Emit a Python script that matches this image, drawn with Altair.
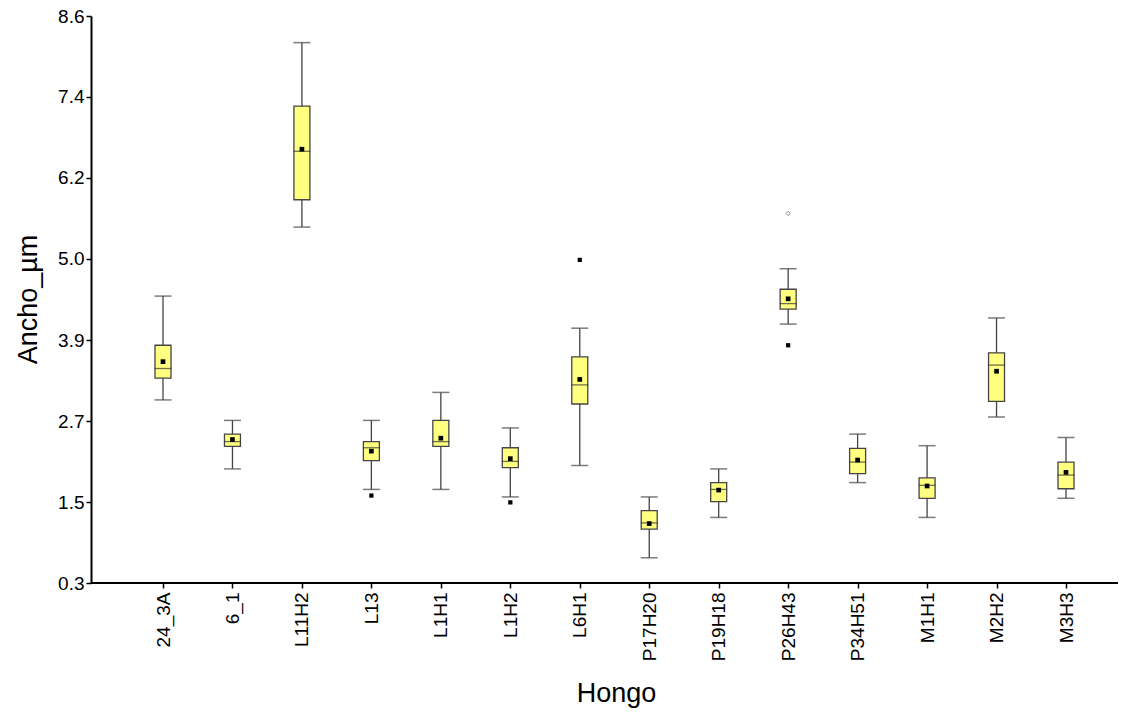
import altair as alt
import pandas as pd

categories = ["24_3A", "6_1", "L11H2", "L13", "L1H1", "L1H2", "L6H1",
              "P17H20", "P19H18", "P26H43", "P34H51", "M1H1", "M2H2", "M3H3"]
whisk_lo = [2.98, 1.97, 5.51, 1.67, 1.67, 1.56, 2.02, 0.67, 1.26, 4.09, 1.77, 1.26, 2.73, 1.54]
q1       = [3.30, 2.30, 5.91, 2.09, 2.30, 1.99, 2.92, 1.09, 1.49, 4.31, 1.90, 1.54, 2.96, 1.68]
median   = [3.44, 2.37, 6.62, 2.28, 2.37, 2.08, 3.20, 1.18, 1.67, 4.39, 2.07, 1.73, 3.49, 1.88]
q3       = [3.78, 2.48, 7.28, 2.37, 2.68, 2.28, 3.61, 1.36, 1.77, 4.60, 2.27, 1.84, 3.67, 2.07]
whisk_hi = [4.50, 2.68, 8.21, 2.68, 3.09, 2.57, 4.03, 1.56, 1.97, 4.90, 2.48, 2.31, 4.18, 2.43]
mean     = [3.54, 2.40, 6.65, 2.23, 2.42, 2.12, 3.28, 1.17, 1.66, 4.46, 2.10, 1.72, 3.40, 1.92]

out_cat = ["L13", "L1H2", "L6H1", "P26H43"]
out_val = [1.58, 1.48, 5.03, 3.78]
far_cat = ["P26H43"]
far_val = [5.71]

y_ticks = [0.3, 1.4857, 2.6714, 3.8571, 5.0429, 6.2286, 7.4143, 8.6]

df = pd.DataFrame({"Hongo": categories, "lo": whisk_lo, "q1": q1, "med": median,
                   "q3": q3, "hi": whisk_hi, "mean": mean})
dfo = pd.DataFrame({"Hongo": out_cat, "v": out_val})
dff = pd.DataFrame({"Hongo": far_cat, "v": far_val})

FONT = "Liberation Sans"
W, H = 1027, 567

xs = alt.X("Hongo:N", sort=categories,
           scale=alt.Scale(type="point", range=[72, 975], padding=0),
           axis=alt.Axis(title="Hongo", labelAngle=270, titleX=525, titleY=110,
                         domain=False))
yscale = alt.Scale(domain=[0.3, 8.6], nice=False, zero=False)
yaxis = alt.Axis(title="Ancho_µm", values=y_ticks, format=".1f",
                 titleX=-63, titleY=283, titleAngle=270)

base = alt.Chart(df)
whisk = base.mark_rule(color="#444444", strokeWidth=1.3).encode(
    x=xs, y=alt.Y("lo:Q", scale=yscale, axis=yaxis), y2="hi:Q")
cap_lo = base.mark_tick(color="#444444", size=17, thickness=1.5).encode(
    x=alt.X("Hongo:N", sort=categories), y="lo:Q")
cap_hi = base.mark_tick(color="#444444", size=17, thickness=1.5).encode(
    x=alt.X("Hongo:N", sort=categories), y="hi:Q")
box = base.mark_bar(size=16, color="#FFFF80", stroke="#444444", strokeWidth=1.3).encode(
    x=alt.X("Hongo:N", sort=categories), y="q1:Q", y2="q3:Q")
med = base.mark_tick(color="#333333", size=17, thickness=1.3).encode(
    x=alt.X("Hongo:N", sort=categories), y="med:Q")
mn = base.mark_square(color="black", size=22, opacity=1).encode(
    x=alt.X("Hongo:N", sort=categories), y="mean:Q")
outl = alt.Chart(dfo).mark_square(color="black", size=18, opacity=1).encode(
    x=alt.X("Hongo:N", sort=categories), y="v:Q")
far = alt.Chart(dff).mark_point(shape="diamond", color="#555555", size=18,
                                filled=False, strokeWidth=1).encode(
    x=alt.X("Hongo:N", sort=categories), y="v:Q")
xline = alt.Chart(pd.DataFrame({"a": [0]})).mark_rule(color="black", strokeWidth=2).encode(
    x=alt.value(0), x2=alt.value(W), y=alt.value(H))

chart = alt.layer(whisk, cap_lo, cap_hi, box, med, mn, outl, far, xline).properties(
    width=W, height=H, background="white",
    autosize=alt.AutoSizeParams(type="none"),
    padding={"left": 91, "top": 16, "right": 11, "bottom": 129},
).configure_view(strokeWidth=0, stroke="transparent").configure_axis(
    labelFont=FONT, labelColor="black", titleFont=FONT, titleFontSize=27,
    titleFontWeight="normal", titleColor="black", titleBaseline="middle",
    titleAlign="center", tickColor="black", tickSize=5, tickWidth=1.5,
    grid=False, domainColor="black", domainWidth=2,
).configure_axisX(labelFontSize=19, labelPadding=4).configure_axisY(
    labelFontSize=19, labelPadding=2)

chart.save("out.html", embed_options={"renderer": "svg", "actions": False})
